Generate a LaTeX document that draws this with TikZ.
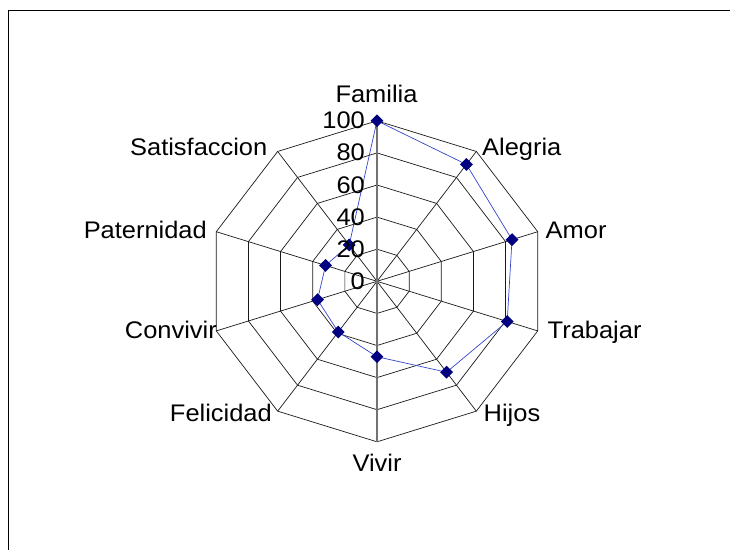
\documentclass[tikz,border=0pt]{standalone}
\usepackage{fontspec}
\setmainfont{Liberation Sans}[FakeStretch=1.06]
\usetikzlibrary{shapes.geometric}
\definecolor{marino}{RGB}{0,0,128}
\definecolor{linea}{RGB}{51,68,204}

\begin{document}
\begin{tikzpicture}[x=1pt, y=-1pt, font=\fontsize{24}{27}\selectfont,
  rejilla/.style={draw=black!90, line width=0.7pt},
  eje/.style={draw=black!55, line width=1.2pt},
  serie/.style={draw=linea, line width=0.7pt},
  marca/.style={diamond, fill=marino, inner sep=0pt, minimum size=13pt},
  etiqueta/.style={inner sep=0pt}]
\useasboundingbox (0,0) rectangle (730,550);
% El marco (cortado a la derecha y abajo)
\draw[line width=1pt] (730,10) -- (8.5,10) -- (8.5,550);

\begin{scope}[shift={(377,281.3)}, x=1.69pt, y=1.605pt]
% Los anillos cada 20
\foreach \r in {20,40,...,100}
  \draw[rejilla] (90:\r) \foreach \a in {1,...,9} {-- (90-36*\a:\r)} -- cycle;
% Los radios
\foreach \a in {1,2,3,4,6,7,8,9}
  \draw[rejilla] (0,0) -- (90-36*\a:100);
% El eje de valores
\draw[eje] (90:100) -- (270:100);

% Los datos
\foreach \v [count=\i from 0] in {100,90,84,81,70,47,39,37,32,28}
  \coordinate (p\i) at (90-36*\i:\v);
\draw[serie] (p0) \foreach \i in {1,...,9} {-- (p\i)} -- cycle;
\foreach \i in {0,...,9}
  \node[marca] (m\i) at (p\i) {};
\end{scope}

% Las cifras del eje
\foreach \v in {0,20,...,100}
  \node[etiqueta, anchor=base east] (n\v) at (365,{289.3-1.605*\v}) {\v};

% Los nombres de las categorias
\node[etiqueta, anchor=base] (familia) at (376.5,102.5) {Familia};
\node[etiqueta, anchor=base west] (alegria) at (482,155) {Alegria};
\node[etiqueta, anchor=base west] (amor) at (545.5,238.3) {Amor};
\node[etiqueta, anchor=base west] (trabajar) at (547.5,338) {Trabajar};
\node[etiqueta, anchor=base west] (hijos) at (483.5,421.7) {Hijos};
\node[etiqueta, anchor=base] (vivir) at (377,471.7) {Vivir};
\node[etiqueta, anchor=base east] (felicidad) at (272,421.7) {Felicidad};
\node[etiqueta, anchor=base east] (convivir) at (217,338) {Convivir};
\node[etiqueta, anchor=base east] (paternidad) at (207,238.3) {Paternidad};
\node[etiqueta, anchor=base east] (satisfaccion) at (267.5,155) {Satisfaccion};
\end{tikzpicture}
\end{document}
